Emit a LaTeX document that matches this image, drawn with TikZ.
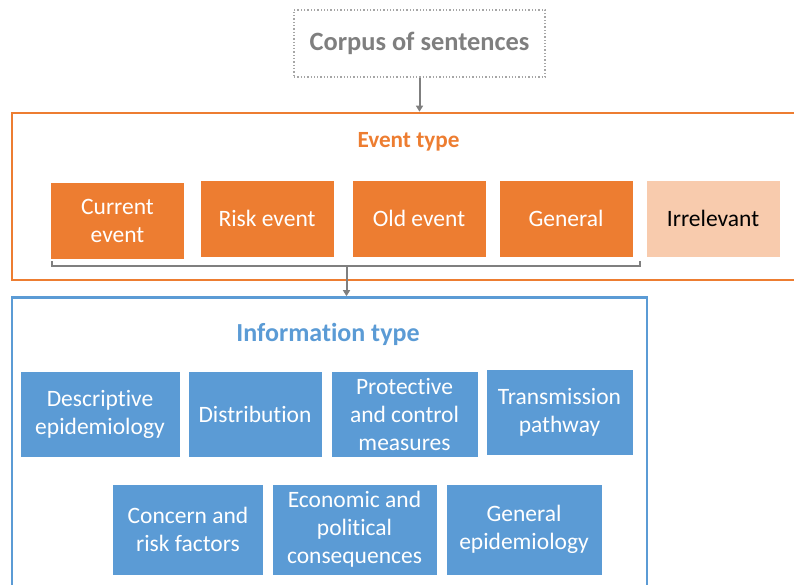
\documentclass[tikz,border=0pt]{standalone}
\usepackage{fontspec}
\setmainfont[Ligatures=CommonOff]{Carlito}
\usetikzlibrary{%
  positioning
 ,arrows.meta
 ,calc
}
\definecolor{evorange}{HTML}{ED7D31}
\definecolor{evlight}{HTML}{F8CBAD}
\definecolor{infoblue}{HTML}{5B9BD5}
\definecolor{arrgray}{HTML}{7F7F7F}
\definecolor{dotgray}{HTML}{A6A6A6}
\newcommand{\boxfont}{\fontsize{23.5}{28}\selectfont}
\tikzstyle{diag}=[x=1pt,y=-1pt,on grid,inner sep=0pt]
\tikzstyle{frm}=[rectangle,line width=2.6pt,inner sep=0pt]
\tikzstyle{evt}=[rectangle,fill=evorange,draw=white,line width=0.8pt,text=white,minimum width=134pt,minimum height=77pt,align=center,font=\boxfont]
\tikzstyle{irr}=[evt,fill=evlight,text=black]
\tikzstyle{inf}=[rectangle,fill=infoblue,draw=white,line width=0.8pt,text=white,minimum height=86pt,align=center,font=\boxfont]
\tikzstyle{low}=[inf,minimum height=91pt]
\tikzstyle{ttl}=[anchor=base,font=\fontsize{23.2}{28}\selectfont\bfseries]
\tikzstyle{brk}=[draw=arrgray,line width=2.4pt]
\tikzstyle{con}=[draw=arrgray,line width=2pt,-{Triangle[length=6pt,width=7pt]}]

\begin{document}
\begin{tikzpicture}[diag]
  \useasboundingbox (0,0) rectangle (794,585);
  \clip (0,0) rectangle (794,585);
  \node[draw=dotgray,dotted,line width=1.3pt,minimum width=251pt,minimum height=67pt,
        text=arrgray,font=\fontsize{26.4}{30}\selectfont\bfseries]
        (corpus) at (419.5,43.5) {Corpus of sentences};
% event type
  \node[frm,draw=evorange,minimum width=800pt,minimum height=167pt] (evframe) at (412,196.5) {};
  \node[ttl,text=evorange] (evtitle) at (408.5,148) {Event type};
  \node[evt]  (risk)                              at (267,218.5) {Risk event};
  \node[evt]  (cur)  [left=149.5pt of risk,yshift=-2pt] {Current\\event};
  \node[evt]  (old)  [right=152pt of risk]  {Old event};
  \node[evt]  (gen)  [right=147pt of old]   {General};
  \node[irr]  (irr)  [right=147pt of gen]   {Irrelevant};
% information type
  \node[frm,draw=infoblue,minimum width=635pt,minimum height=320pt] (infoframe) at (329.5,457.5) {};
  \node[ttl,text=infoblue,font=\fontsize{26}{30}\selectfont\bfseries] (inftitle) at (328,341.5) {Information type};
  \node[inf,minimum width=160pt] (desc)                  at (100,414) {Descriptive\\epidemiology};
  \node[inf,minimum width=134pt] (dist)  [right=155pt of desc]   {Distribution};
  \node[inf,minimum width=147pt] (prot)  [right=149.5pt of dist] {Protective\\and control\\measures};
  \node[inf,minimum width=147pt] (trans) [right=155pt of prot,yshift=1.5pt] {Transmission\\pathway};
  \node[low,minimum width=151pt] (conc)                  at (188,529.5) {Concern and\\risk factors};
  \node[low,minimum width=165pt] (econ)  [right=166.5pt of conc] {Economic and\\political\\consequences};
  \node[low,minimum width=156pt] (gepi)  [right=169.5pt of econ] {General\\epidemiology};
% connectors
  \coordinate (bl) at (52,261);
  \coordinate (br) at (640,261);
  \coordinate (bm) at (346.5,266);
  \draw[brk] (bl) |- (bm) -| (br);
  \draw[con] (corpus.south) -- (corpus.south |- evframe.north);
  \draw[con] (bm) -- (bm |- infoframe.north);
\end{tikzpicture}
\end{document}
